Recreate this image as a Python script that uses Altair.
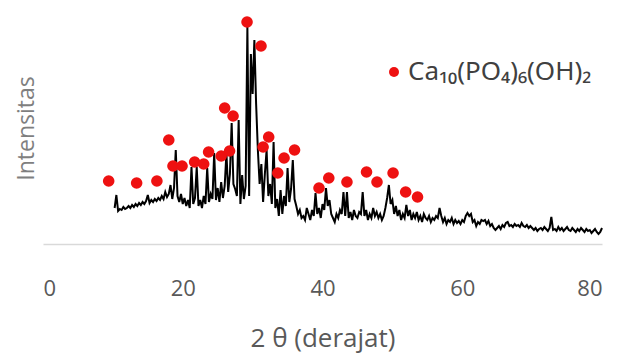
import altair as alt
import pandas as pd

# XRD pattern: intensities on a regular 2-theta grid (start 10.25 deg, step 0.25 deg)
theta_start = 10.25
theta_step = 0.25
intensity = [
    36, 49, 33, 35,  34, 37, 35, 36,  38, 36, 39, 37,  40, 38, 41, 39,
    42, 40, 43, 49,  41, 44, 42, 45,  43, 46, 44, 48,  45, 52, 47, 50,
    59, 45, 56, 94,  48, 42, 50, 40,  46, 38, 44, 36,  77, 40, 46, 77,
    38, 44, 36, 48,  40, 76, 42, 50,  45, 91, 44, 56,  42, 62, 46, 58,
    91, 52, 70, 121, 60, 55, 48, 124, 40, 69, 45, 58,  217, 48, 190, 150,
    204, 140, 94, 60, 80, 42, 70, 94,  48, 60, 40, 102, 36, 45, 28, 54,
    30, 48, 38, 76,  42, 55, 84, 45,  38, 30, 34, 26,  28, 24, 36, 30,
    24, 34, 28, 51,  30, 36, 26, 40,  34, 56, 38, 44,  30, 26, 22, 30,
    26, 34, 30, 52,  28, 52, 26, 32,  24, 34, 28, 26,  32, 30, 52, 28,
    34, 24, 30, 26,  36, 28, 32, 26,  30, 24, 28, 36,  46, 59, 40, 44,
    30, 38, 28, 34,  24, 30, 26, 39,  28, 34, 24, 30,  26, 32, 24, 28,
    22, 30, 26, 24,  28, 22, 26, 24,  28, 26, 36, 28,  22, 26, 20, 24,
    22, 26, 20, 24,  21, 23, 20, 24,  22, 28, 31, 28,  30, 22, 24, 18,
    22, 20, 24, 23,  24, 20, 23, 18,  20, 16, 14, 16,  18, 15, 19, 17,
    21, 22, 18, 19,  17, 20, 18, 19,  17, 21, 18, 17,  19, 16, 18, 16,
    14, 16, 13, 15,  16, 14, 17, 15,  13, 16, 27, 14,  15, 13, 17, 14,
    16, 13, 15, 17,  14, 13, 16, 14,  12, 15, 13, 16,  14, 12, 15, 13,
    14, 11, 13, 15,  12, 10, 12, 16,
]

# Peaks marked as hydroxyapatite
peak_theta = [9.4, 13.4, 16.3, 18.0, 18.6, 19.9, 21.7, 23.0, 23.7, 25.5,
              26.7, 26.0, 27.2, 29.2, 31.2, 31.5, 32.3, 33.6, 34.5, 36.0,
              39.5, 40.9, 43.5, 46.3, 47.8, 50.1, 51.9, 53.6]
peak_intensity = [63, 61, 63, 104, 78, 78, 82, 80, 92, 88,
                  93, 136, 128, 222, 198, 97, 107, 71, 86, 94,
                  56, 66, 62, 72, 62, 71, 52, 47]
series_name = "Ca₁₀(PO₄)₆(OH)₂"

x_ticks = [0, 20, 40, 60, 80]

line_df = pd.DataFrame({
    "theta": [theta_start + i * theta_step for i in range(len(intensity))],
    "I": intensity,
})
peak_df = pd.DataFrame({
    "theta": peak_theta,
    "I": peak_intensity,
    "series": [series_name] * len(peak_theta),
})

x_enc = alt.X(
    "theta:Q",
    scale=alt.Scale(domain=[0, 80], nice=False),
    axis=alt.Axis(
        values=x_ticks, title="2 θ (derajat)", grid=False, ticks=False,
        domainColor="#d9d9d9", domainWidth=1.5,
        labelFont="Open Sans", labelFontSize=22, labelColor="#595959",
        labelPadding=34,
        titleFont="Open Sans", titleFontSize=26, titleFontWeight="normal",
        titleColor="#595959", titleY=94, titleBaseline="middle",
    ),
)
y_enc = alt.Y(
    "I:Q",
    scale=alt.Scale(domain=[0, 230], nice=False),
    axis=alt.Axis(
        labels=False, ticks=False, domain=False, grid=False,
        title="Intensitas", titleFont="Open Sans", titleFontSize=23,
        titleFontWeight="normal", titleColor="#7f7f7f",
        titleX=-17, titleY=114, titleAngle=-90,
        titleAlign="center", titleBaseline="middle",
    ),
)

line = alt.Chart(line_df).mark_line(color="black", strokeWidth=2).encode(
    x=x_enc, y=y_enc
)
points = alt.Chart(peak_df).mark_circle(size=135, opacity=1).encode(
    x="theta:Q",
    y="I:Q",
    color=alt.Color(
        "series:N",
        scale=alt.Scale(domain=[series_name], range=["#ee1111"]),
        legend=alt.Legend(
            title=None, orient="none", legendX=338, legendY=45,
            symbolType="circle", symbolSize=100, symbolOpacity=1,
            labelFont="Noto Sans", labelFontSize=26, labelColor="#404040",
            labelLimit=400, symbolOffset=0, labelOffset=1,
        ),
    ),
)

chart = alt.layer(line, points).properties(
    width=559, height=230,
    autosize=alt.AutoSizeParams(type="none"),
    padding={"left": 35, "top": 6, "right": 10, "bottom": 112},
).configure_view(stroke=None)

chart.save("out.html", embed_options={"renderer": "svg", "actions": False})
